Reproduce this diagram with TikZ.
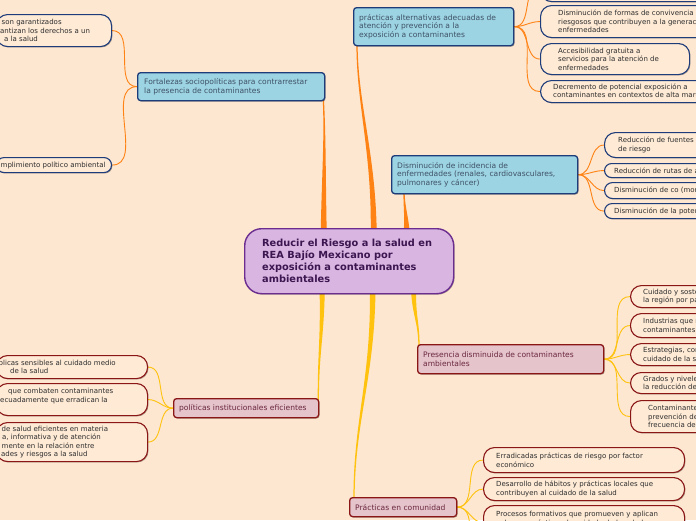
\documentclass[tikz,border=0pt]{standalone}
\usepackage{fontspec}
\newfontfamily\dv{DejaVu Sans}
\usetikzlibrary{calc,shadows}
\definecolor{bgc}{HTML}{FDE7D0}
\definecolor{subf}{HTML}{FEEAD5}
\definecolor{bluef}{HTML}{9DD4E3}
\definecolor{blued}{HTML}{1E3B7A}
\definecolor{bluet}{HTML}{3E5266}
\definecolor{pinkf}{HTML}{E5C4CB}
\definecolor{pinkd}{HTML}{8A1616}
\definecolor{pinkt}{HTML}{6B2840}
\definecolor{ctrf}{HTML}{D9B5E1}
\definecolor{ctrd}{HTML}{6B2D8F}
\definecolor{ctrtx}{HTML}{3B1650}
\definecolor{orangec}{HTML}{FF8214}
\definecolor{goldc}{HTML}{FFC20E}
\definecolor{subt}{HTML}{2E2E2E}
\pgfdeclarelayer{back}\pgfdeclarelayer{links}\pgfsetlayers{back,links,main}
\tikzset{
 base/.style={draw, inner sep=0pt, anchor=north west, drop shadow={shadow xshift=0.9pt, shadow yshift=-0.9pt, opacity=0.3, fill=black}},
 bluebox/.style={base, fill=bluef, draw=blued, line width=1.3pt, rounded corners=3pt},
 pinkbox/.style={base, fill=pinkf, draw=pinkd, line width=1.3pt, rounded corners=3pt},
 subb/.style={base, fill=subf, draw=blued, line width=1.1pt},
 subp/.style={base, fill=subf, draw=pinkd, line width=1.1pt},
 maintxt/.style={inner sep=0pt, align=left, font=\dv\fontsize{7.55}{8.8}\selectfont},
 bluetxt/.style={maintxt, text=bluet},
 pinktxt/.style={maintxt, text=pinkt},
 subtxt/.style={inner sep=0pt, align=left, text=subt, font=\dv\fontsize{7}{8.4}\selectfont},
 thinO/.style={draw=orangec, line width=0.9pt},
 thinG/.style={draw=goldc, line width=0.9pt},
}
% sub box: name, boxstyle, textstyle, x1, y1, x2, y2, pad, text
\newcommand\subbox[9]{%
 \pgfmathsetmacro\bxw{(#6)-(#4)}\pgfmathsetmacro\bxh{(#7)-(#5)}\pgfmathsetmacro\bxr{min(11,\bxh/2)}%
 \node[#2, minimum width=\bxw pt, minimum height=\bxh pt, rounded corners=\bxr pt] (#1) at (#4,#5) {};%
 \node[#3, anchor=west] (#1t) at ([xshift=#8pt]#1.west) {#9};}
\newcommand\mainbox[9]{%
 \pgfmathsetmacro\bxw{(#6)-(#4)}\pgfmathsetmacro\bxh{(#7)-(#5)}%
 \node[#2, minimum width=\bxw pt, minimum height=\bxh pt] (#1) at (#4,#5) {};%
 \node[#3, anchor=west] (#1t) at ([xshift=#8pt]#1.west) {#9};}
\newcommand\taper[6]{\fill[#1] ($(#2)+(-#6,0)$) .. controls ($(#3)+(-#6*0.6,0)$) and ($(#4)+(-0.7,0)$) .. ($(#5)+(-0.6,0)$) -- ($(#5)+(0.6,0)$) .. controls ($(#4)+(0.7,0)$) and ($(#3)+(#6*0.6,0)$) .. ($(#2)+(#6,0)$) -- cycle;}
\begin{document}
\begin{tikzpicture}[x=1pt,y=-1pt]
\useasboundingbox (0,0) rectangle (696,520);
\begin{pgfonlayer}{back}
\fill[bgc] (0,0) rectangle (696,520);
\end{pgfonlayer}
% central
\node[base, fill=ctrf, draw=ctrd, line width=1.4pt, rounded corners=17pt, minimum width=209pt, minimum height=65pt] (ctr) at (244,228) {};
\node[inner sep=0pt, align=left, text=ctrtx, font=\dv\bfseries\fontsize{9.8}{12}\selectfont, anchor=west] (ctrtxt) at ([xshift=18pt]ctr.west) {Reducir el Riesgo a la salud en\\REA Bajío Mexicano por\\exposición a contaminantes\\ambientales};
% main branches
\mainbox{fort}{bluebox}{bluetxt}{137}{72}{324}{100}{7}{Fortalezas sociopolíticas para contrarrestar\\la presencia de contaminantes}
\mainbox{pra}{bluebox}{bluetxt}{353}{7}{513}{45}{6}{prácticas alternativas adecuadas de\\atención y prevención a la\\exposición a contaminantes}
\mainbox{dis}{bluebox}{bluetxt}{391}{155}{577}{193}{6}{Disminución de incidencia de\\enfermedades (renales, cardiovasculares,\\pulmonares y cáncer)}
\mainbox{pres}{pinkbox}{pinktxt}{417}{344}{603}{373}{6}{Presencia disminuida de contaminantes\\ambientales}
\mainbox{pol}{pinkbox}{pinktxt}{173}{398}{318}{417}{6}{políticas institucionales eficientes}
\mainbox{com}{pinkbox}{pinktxt}{349}{497}{456}{516}{6}{Prácticas en comunidad}
% Fortalezas subs
\subbox{fs1}{subb}{subtxt}{-4}{14}{111}{46}{4}{\hspace*{1.5pt}son garantizados\\antizan los derechos a un\\\hspace*{4pt}a la salud}
\subbox{fs2}{subb}{subtxt}{-4}{157}{111}{172}{4}{\hspace*{0.5pt}mplimiento político ambiental}
% políticas subs
\subbox{ps1}{subp}{subtxt}{-4}{355}{147}{378}{4}{\hspace*{-1.5pt}blicas sensibles al cuidado medio\\\hspace*{10pt}de la salud}
\subbox{ps2}{subp}{subtxt}{-4}{383}{147}{415}{4}{\hspace*{8pt}que combaten contaminantes\\ecuadamente que erradican la\\\mbox{}}
\subbox{ps3}{subp}{subtxt}{-4}{422}{147}{461}{4}{\hspace*{1.5pt}de salud eficientes en materia\\\hspace*{2pt}a, informativa y de atención\\\hspace*{1.5pt}mente en la relación entre\\\hspace*{1pt}ades y riesgos a la salud}
% prácticas alternativas subs
\subbox{pa0}{subb}{subtxt}{540}{-30}{760}{1}{18}{\mbox{}}
\subbox{pa1}{subb}{subtxt}{540}{5}{760}{37}{18}{Disminución de formas de convivencia y\\riesgosos que contribuyen a la generación de\\enfermedades}
\subbox{pa2}{subb}{subtxt}{540}{43}{689}{74}{18}{Accesibilidad gratuita a\\servicios para la atención de\\enfermedades}
\subbox{pa3}{subb}{subtxt}{540}{80}{760}{102}{13}{Decremento de potencial exposición a\\contaminantes en contextos de alta marginación}
% Disminución subs
\subbox{ds1}{subb}{subtxt}{604}{132}{760}{157}{14}{Reducción de fuentes de\\de riesgo}
\subbox{ds2}{subb}{subtxt}{604}{163}{760}{177}{10}{Reducción de rutas de acceso}
\subbox{ds3}{subb}{subtxt}{604}{182}{760}{198}{10}{Disminución de co (monóxido)}
\subbox{ds4}{subb}{subtxt}{604}{203}{760}{218}{10}{Disminución de la potencial}
% Presencia subs
\subbox{pr1}{subp}{subtxt}{630}{285}{760}{307}{13}{Cuidado y sostenibilidad de\\la región por parte}
\subbox{pr2}{subp}{subtxt}{630}{313}{760}{337}{13}{Industrias que reducen\\contaminantes}
\subbox{pr3}{subp}{subtxt}{630}{343}{760}{365}{13}{Estrategias, comunitarias\\cuidado de la salud}
\subbox{pr4}{subp}{subtxt}{630}{372}{760}{393}{13}{Grados y niveles de\\la reducción de}
\subbox{pr5}{subp}{subtxt}{630}{400}{760}{432}{18}{Contaminantes\\prevención de\\frecuencia de}
% comunidad subs
\subbox{cm1}{subp}{subtxt}{483}{447}{684}{472}{13}{Erradicadas prácticas de riesgo por factor\\económico}
\subbox{cm2}{subp}{subtxt}{483}{477}{684}{500}{13}{Desarrollo de hábitos y prácticas locales que\\contribuyen al cuidado de la salud}
\subbox{cm3}{subp}{subtxt}{483}{505}{684}{539}{13}{Procesos formativos que promueven y aplican\\valores y prácticas de cuidado de la salud\\\mbox{}}
\coordinate (cm4) at (483,565);
% connectors
\begin{pgfonlayer}{links}
\coordinate (a0) at ([xshift=-25.5pt,yshift=-4pt]ctr.north);
\coordinate (a3) at ([xshift=-2pt,yshift=3pt]fort.south east);
\coordinate (a1) at ($(a0)+(0,-60)$);
\coordinate (a2) at ($(a3)+(2,40)$);
\taper{orangec}{a0}{a1}{a2}{a3}{3}
\coordinate (b0) at ([xshift=24.5pt,yshift=-4pt]ctr.north);
\coordinate (b3) at ([xshift=4pt,yshift=3pt]pra.south west);
\coordinate (b1) at ($(b0)+(0,-80)$);
\coordinate (b2) at ($(b3)+(0,60)$);
\taper{orangec}{b0}{b1}{b2}{b3}{3}
\coordinate (c0) at ([xshift=57.5pt,yshift=-4pt]ctr.north);
\coordinate (c3) at ([xshift=13pt,yshift=3pt]dis.south west);
\coordinate (c1) at ($(c0)+(0,-15)$);
\coordinate (c2) at ($(c3)+(0,15)$);
\taper{orangec}{c0}{c1}{c2}{c3}{3}
\coordinate (d0) at ([xshift=64.5pt,yshift=4pt]ctr.south);
\coordinate (d3) at ([xshift=2pt,yshift=-3pt]pres.north west);
\coordinate (d1) at ($(d0)+(0,25)$);
\coordinate (d2) at ($(d3)+(0,-25)$);
\taper{goldc}{d0}{d1}{d2}{d3}{2.6}
\coordinate (e0) at ([xshift=-27pt,yshift=4pt]ctr.south);
\coordinate (e3) at ([xshift=-1pt,yshift=-3pt]pol.north east);
\coordinate (e1) at ($(e0)+(0,50)$);
\coordinate (e2) at ($(e3)+(0,-50)$);
\taper{goldc}{e0}{e1}{e2}{e3}{2.6}
\coordinate (f0) at ([xshift=23.5pt,yshift=4pt]ctr.south);
\coordinate (f3) at ([xshift=5pt,yshift=-3pt]com.north west);
\coordinate (f1) at ($(f0)+(0,90)$);
\coordinate (f2) at ($(f3)+(0,-80)$);
\taper{goldc}{f0}{f1}{f2}{f3}{2.8}
\foreach \s in {fs1,fs2} \draw[thinO] (fort.west) to[out=180,in=0] (\s.east);
\foreach \s in {ps1,ps2,ps3} \draw[thinG] (pol.west) to[out=180,in=0] (\s.east);
\foreach \s in {pa0,pa1,pa2,pa3} \draw[thinO] (pra.east) to[out=0,in=180] (\s.west);
\foreach \s in {ds1,ds2,ds3,ds4} \draw[thinO] (dis.east) to[out=0,in=180] (\s.west);
\foreach \s in {pr1,pr2,pr3,pr4,pr5} \draw[thinG] (pres.east) to[out=0,in=180] (\s.west);
\foreach \s in {cm1,cm2,cm3} \draw[thinG] (com.east) to[out=0,in=180] (\s.west);
\draw[thinG] (com.east) to[out=0,in=180] (cm4);
\end{pgfonlayer}
\end{tikzpicture}
\end{document}
